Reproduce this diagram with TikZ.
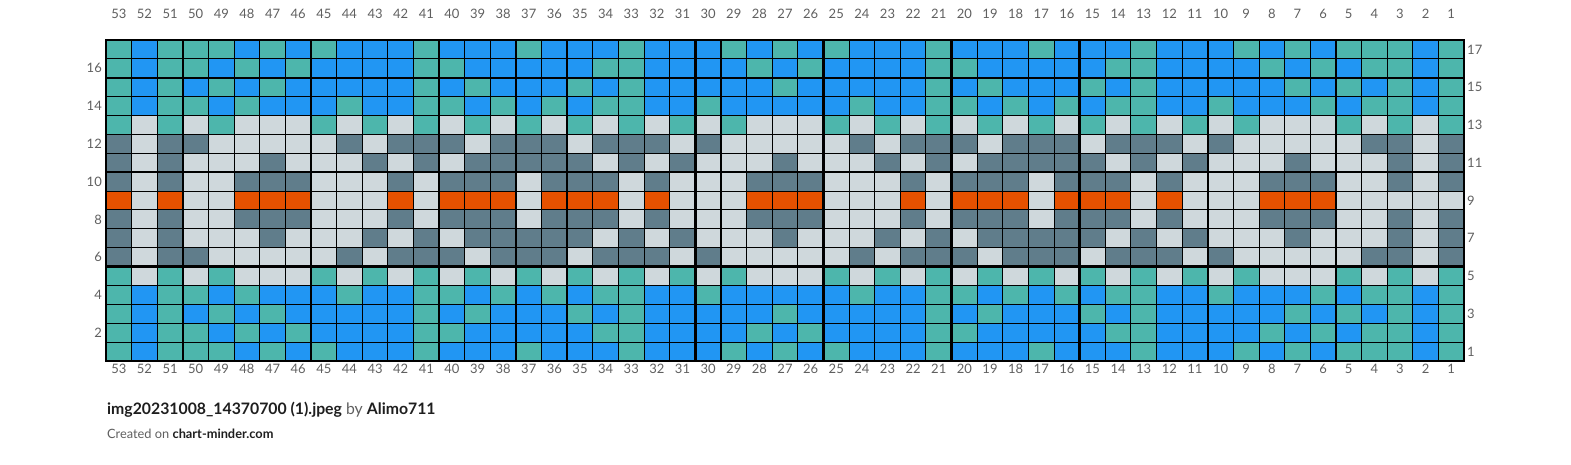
\documentclass[tikz,border=0pt]{standalone}
\usepackage{fontspec}
\setmainfont{Lato}
\definecolor{cT}{HTML}{4DB6AC}
\definecolor{cB}{HTML}{2196F3}
\definecolor{cL}{HTML}{CFD8DC}
\definecolor{cD}{HTML}{607D8B}
\definecolor{cO}{HTML}{E65100}
\definecolor{labgrey}{HTML}{5F5F5F}
\definecolor{txtdark}{HTML}{1E1E1E}
\def\W{25.623}\def\H{18.882}\def\X{106}\def\Y{-40}
\newcommand\chartrow[2]{%
  \foreach \c [count=\i from 0] in {#2} {
    \fill[c\c] ({\X+\i*\W},{\Y-(17-#1)*\H}) rectangle ++(\W,-\H);
    \fill[c\c] ({\X+\i*\W},{\Y-(#1-1)*\H}) rectangle ++(\W,-\H);
  }}
\tikzset{
  thin grid/.style={line width=1.1pt, black},
  thick grid/.style={line width=2.5pt, black, line cap=rect},
  numlab/.style={font=\fontsize{13}{15}\selectfont, text=labgrey, inner sep=0pt},
}
\begin{document}
\begin{tikzpicture}[x=1pt,y=1pt]
\useasboundingbox (0,0) rectangle (1571,-465);
\chartrow{17}{T,B,T,T,T,B,T,B,T,B,B,B,T, B,B,B,T,B,B,B,T,B,B,B,T,B, T,B,T,B,B,B,T,B,B,B,T,B,B,B, T,B,B,B,T,B,T,B,T,T,T,B,T}
\chartrow{16}{T,B,T,T,B,T,B,T,B,B,B,B,T, T,B,B,B,B,B,T,T,B,B,B,B,T, B,T,B,B,B,B,T,T,B,B,B,B,B,T, T,B,B,B,B,T,B,T,B,T,T,B,T}
\chartrow{15}{T,B,T,B,T,B,T,B,B,B,B,B,T, B,T,B,B,B,T,B,T,B,B,B,B,B, T,B,B,B,B,B,T,B,T,B,B,B,T,B, T,B,B,B,B,B,T,B,T,B,T,B,T}
\chartrow{14}{T,B,T,T,B,T,B,B,B,T,B,B,T, T,B,T,B,T,B,T,T,B,B,T,B,B, B,B,B,T,B,B,T,T,B,T,B,T,B,T, T,B,B,T,B,B,B,T,B,T,T,B,T}
\chartrow{13}{T,L,T,L,T,L,L,L,T,L,T,L,T, L,T,L,T,L,T,L,T,L,T,L,T,L, L,L,T,L,T,L,T,L,T,L,T,L,T,L, T,L,T,L,T,L,L,L,T,L,T,L,T}
\chartrow{12}{D,L,D,D,L,L,L,L,L,D,L,D,D, D,L,D,D,D,L,D,D,D,L,D,L,L, L,L,L,D,L,D,D,D,L,D,D,D,L,D, D,D,L,D,L,L,L,L,L,D,D,L,D}
\chartrow{11}{D,L,D,L,L,L,D,L,L,L,D,L,D, L,D,D,D,D,D,L,D,L,D,L,L,L, D,L,L,L,D,L,D,L,D,D,D,D,D,L, D,L,D,L,L,L,D,L,L,L,D,L,D}
\chartrow{10}{D,L,D,L,L,D,D,D,L,L,L,D,L, D,D,D,L,D,D,D,L,D,L,L,L,D, D,D,L,L,L,D,L,D,D,D,L,D,D,D, L,D,L,L,L,D,D,D,L,L,D,L,D}
\chartrow{9}{O,L,O,L,L,O,O,O,L,L,L,O,L, O,O,O,L,O,O,O,L,O,L,L,L,O, O,O,L,L,L,O,L,O,O,O,L,O,O,O, L,O,L,L,L,O,O,O,L,L,L,L,L}
% thin grid lines
\foreach \k in {0,...,53}
  \draw[thin grid] ({\X+\k*\W},\Y) -- ({\X+\k*\W},{\Y-17*\H});
\foreach \j in {0,...,17}
  \draw[thin grid] (\X,{\Y-\j*\H}) -- ({\X+53*\W},{\Y-\j*\H});
% thick grid lines
\foreach \k in {0,3,8,13,18,23,28,33,38,43,48,53}
  \draw[thick grid] ({\X+\k*\W},\Y) -- ({\X+\k*\W},{\Y-17*\H});
\foreach \j in {0,2,7,12,17}
  \draw[thick grid] (\X,{\Y-\j*\H}) -- ({\X+53*\W},{\Y-\j*\H});
% column numbers
\foreach \i in {0,...,52} {
  \pgfmathtruncatemacro\n{53-\i}
  \node[numlab] (top\n) at ({\X+(\i+0.5)*\W},-14) {\n};
  \node[numlab] (bot\n) at ({\X+(\i+0.5)*\W},-369) {\n};
}
% row numbers
\foreach \r in {16,14,...,2}
  \node[numlab, anchor=east] (left\r) at (102,{\Y-(17-\r+0.5)*\H}) {\r};
\foreach \r in {17,15,...,1}
  \node[numlab, anchor=west] (right\r) at (1467,{\Y-(17-\r+0.5)*\H}) {\r};
% caption
\node[anchor=base west, inner sep=0pt, font=\fontsize{15.8}{18}\selectfont, text=txtdark] (title) at (107,-414)
  {\textbf{img20231008\_14370700 (1).jpeg} {\color{labgrey}by} \textbf{Alimo711}};
\node[anchor=base west, inner sep=0pt, font=\fontsize{12.8}{15}\selectfont, text=labgrey] (credit) at (107,-438)
  {Created on {\color{txtdark}\textbf{chart-minder.com}}};
\end{tikzpicture}
\end{document}
